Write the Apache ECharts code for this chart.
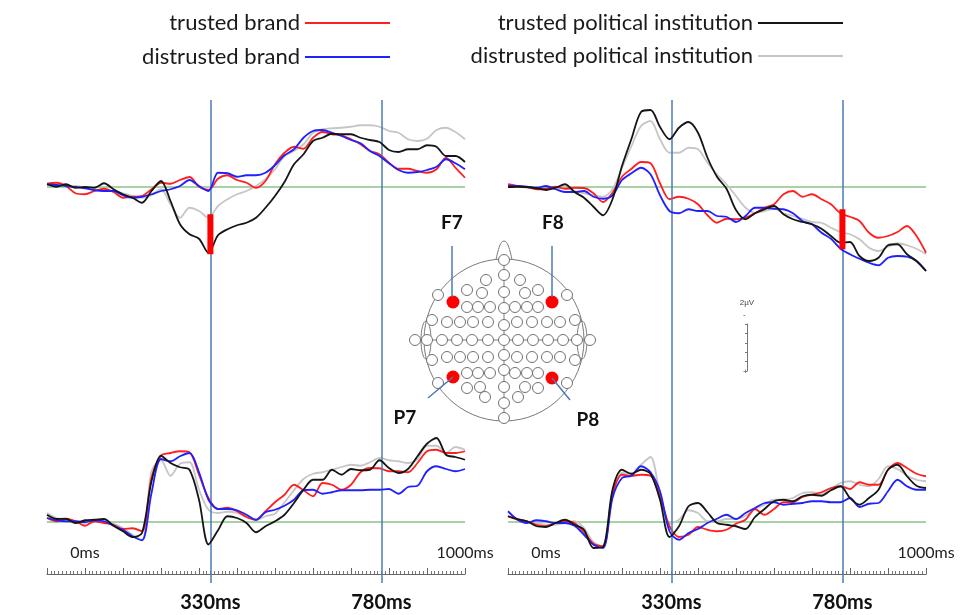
<!DOCTYPE html>
<html>
<head>
<meta charset="utf-8">
<title>ERP waveforms</title>
<style>
  html, body { margin: 0; padding: 0; background: #fff; }
  #main { width: 962px; height: 615px; }
</style>
<script src="https://cdn.jsdelivr.net/npm/echarts@6/dist/echarts.min.js"></script>
</head>
<body>
<div id="main"></div>
<script>
// time points of the averaged waveforms (ms)
var times = [-100, -75, -50, -25, 0, 25, 50, 75, 100, 125, 150, 175, 200, 225, 250, 275, 300, 325, 350, 375,
    400, 425, 450, 475, 500, 525, 550, 575, 600, 625, 650, 675, 700, 725, 750, 775, 800, 825, 850, 875,
    900, 925, 950, 975, 1000];

// F7 (uV, negative plotted up)
var f7BrandT = [-0.13, -0.17, -0.04, 0.25, 0.29, 0.16, 0.07, 0.2, 0.43, 0.39, 0.36, 0.09, -0.17, -0.13, -0.28, -0.4, -0.01, 0.12, -0.33, -0.47,
    -0.28, -0.17, 0.03, -0.24, -0.91, -1.37, -1.61, -1.53, -1.97, -2.2, -2.11, -2.07, -1.91, -1.71, -1.44, -1.31, -0.97, -0.73, -0.73, -0.64,
    -0.57, -0.71, -1.17, -0.77, -0.37];
var f7BrandD = [-0.11, -0.08, -0.04, 0, 0.05, 0.13, 0.16, 0.16, 0.33, 0.43, 0.39, 0.29, 0.16, 0.09, -0.04, -0.28, -0.04, 0.16, -0.57, -0.55,
    -0.41, -0.47, -0.47, -0.57, -0.87, -1.27, -1.51, -1.97, -2.24, -2.28, -2.17, -2.04, -1.88, -1.75, -1.44, -1.24, -0.95, -0.68, -0.57, -0.6,
    -0.68, -0.81, -1.11, -0.95, -0.71];
var f7PolT = [-0.11, -0.01, -0.11, 0.03, 0, 0.03, -0.15, 0.09, 0.29, 0.43, 0.63, 0.16, -0.24, 0.56, 1.49, 1.89, 2.07, 2.63, 1.93, 1.69,
    1.53, 1.43, 1.23, 0.83, 0.36, -0.2, -0.91, -1.31, -1.84, -1.97, -2.13, -2.11, -2.11, -1.97, -1.88, -1.8, -1.48, -1.4, -1.51, -1.51,
    -1.67, -1.61, -1.24, -1.24, -1.0];
var f7PolD = [-0.11, -0.07, -0.04, -0.04, 0.03, 0.09, 0.16, 0.16, 0.25, 0.36, 0.43, 0.33, 0.09, 0.69, 1.23, 0.83, 0.96, 1.23, 0.76, 0.49,
    0.29, 0.16, -0.04, -0.31, -0.71, -1.24, -1.44, -1.71, -2.17, -2.31, -2.35, -2.37, -2.41, -2.47, -2.47, -2.41, -2.24, -2.17, -1.91, -1.84,
    -1.93, -2.28, -2.37, -2.2, -1.91];

// F8
var f8BrandT = [-0.11, -0.04, 0, 0.09, 0.07, -0.01, 0.07, 0.03, 0.04, 0.25, 0.6, 0.23, -0.41, -0.73, -1.0, -0.95, -0.15, 0.49, 0.39, 0.47,
    0.69, 1.13, 1.43, 1.27, 1.29, 1.23, 1.05, 0.83, 0.69, 0.29, 0.16, 0.39, 0.29, 0.49, 0.69, 1.05, 1.19, 1.36, 1.83, 2.03,
    1.96, 1.8, 1.56, 1.96, 2.63];
var f8BrandD = [-0.04, -0.04, -0.01, 0.03, -0.04, 0.09, 0.2, 0.2, 0.16, 0.39, 0.47, 0.33, -0.28, -0.55, -0.77, -0.51, 0.33, 0.96, 1.05, 0.89,
    0.96, 0.96, 1.16, 1.19, 1.4, 1.16, 0.83, 0.83, 0.87, 0.89, 1.05, 1.36, 1.49, 1.83, 2.07, 2.47, 2.69, 2.87, 3.03, 3.13,
    2.83, 2.76, 2.79, 2.96, 3.36];
var f8PolT = [0, -0.01, 0, 0.05, 0.12, 0.03, -0.11, 0.2, 0.43, 0.79, 1.13, 0.49, -0.84, -1.93, -3.0, -3.08, -2.4, -1.91, -2.37, -2.6,
    -2.17, -1.17, -0.41, 0.07, 0.92, 1.29, 1.05, 0.89, 0.76, 1.09, 1.29, 1.4, 1.49, 1.67, 1.96, 2.23, 2.2, 2.76, 2.96, 2.83,
    2.33, 2.29, 2.69, 2.96, 3.36];
var f8PolD = [-0.04, -0.01, 0.03, 0.07, 0.09, 0.07, 0.03, 0.16, 0.25, 0.33, 0.39, 0.09, -0.77, -1.64, -2.44, -2.64, -1.91, -1.37, -1.37, -1.57,
    -1.51, -0.97, -0.51, -0.11, 0.36, 0.83, 1.03, 0.96, 0.87, 1.05, 1.16, 1.27, 1.4, 1.43, 1.63, 1.8, 1.89, 2.09, 2.43, 2.56,
    2.39, 2.25, 2.33, 2.47, 2.69];

// P7
var p7BrandT = [-0.16, -0.03, -0.12, -0.03, 0.15, -0.03, 0.04, 0.11, 0.28, 0.25, 0.37, -1.76, -2.65, -2.76, -2.83, -2.79, -1.89, -0.96, -0.52, -0.57,
    -0.43, -0.2, -0.09, -0.43, -0.79, -1.09, -1.49, -1.27, -1.03, -1.56, -1.49, -1.29, -1.49, -1.99, -2.16, -2.15, -2.03, -2.03, -1.99, -2.36,
    -2.83, -2.89, -2.76, -2.76, -2.83];
var p7BrandD = [-0.16, -0.07, -0.03, -0.03, 0.01, -0.07, -0.03, 0.15, 0.31, 0.57, 0.73, -1.16, -2.52, -2.43, -2.63, -2.76, -1.99, -0.89, -0.52, -0.52,
    -0.47, -0.29, -0.09, -0.39, -0.49, -0.65, -0.89, -1.27, -1.29, -1.13, -1.19, -1.27, -1.27, -1.27, -1.29, -1.29, -1.32, -1.13, -1.4, -1.45,
    -2.03, -2.23, -2.12, -2.03, -2.12];
var p7PolT = [-0.29, -0.12, -0.13, 0.04, -0.07, -0.09, -0.12, 0.15, 0.37, 0.6, 0.44, -1.63, -2.65, -2.36, -2.19, -2.09, -0.89, 0.9, 0.33, -0.23,
    -0.16, 0.04, 0.41, 0.17, -0.03, -0.29, -0.76, -1.29, -1.69, -1.69, -2.09, -1.89, -2.12, -2.07, -2.09, -2.47, -2.16, -1.96, -2.12, -2.63,
    -3.13, -3.36, -2.69, -2.6, -2.49];
var p7PolD = [-0.36, -0.16, -0.12, -0.03, 0.01, -0.03, 0.01, 0.07, 0.24, 0.51, 0.73, -2.03, -2.47, -1.85, -2.33, -2.39, -1.29, -0.49, -0.36, -0.41,
    -0.36, -0.2, -0.07, -0.23, -0.33, -0.79, -1.27, -1.72, -1.93, -1.99, -2.09, -2.2, -2.29, -2.25, -2.39, -2.56, -2.47, -2.43, -2.36, -2.52,
    -3.05, -3.05, -2.76, -3.0, -2.89];

// P8
var p8BrandT = [-0.23, -0.09, -0.03, 0.11, 0.17, 0.04, -0.03, 0.04, 0.41, 0.87, 0.97, -1.09, -1.89, -1.85, -1.89, -1.85, -1.03, 0.17, 0.6, 0.51,
    0.2, 0.31, 0.37, 0.31, 0.07, -0.09, -0.52, -0.29, -0.52, -0.79, -0.79, -1.0, -1.09, -1.19, -1.36, -1.43, -1.32, -1.59, -1.49, -1.49,
    -2.09, -2.36, -2.16, -1.93, -1.83];
var p8BrandD = [-0.43, -0.09, 0.04, -0.07, -0.03, 0.04, 0.04, 0.15, 0.51, 0.91, 1.04, -0.96, -1.76, -1.85, -2.23, -1.99, -1.23, 0.37, 0.71, 0.44,
    0.28, 0.04, -0.13, -0.29, -0.12, -0.36, -0.56, -0.76, -0.79, -0.69, -0.73, -0.76, -0.83, -0.83, -0.79, -0.79, -0.96, -0.6, -0.73, -0.76,
    -1.23, -1.69, -1.43, -1.29, -1.29];
var p8PolT = [-0.23, -0.12, -0.03, 0.17, 0.2, 0.04, -0.09, 0.11, 0.31, 1.04, 1.0, -1.29, -2.09, -1.93, -2.09, -1.93, -0.89, 0.6, 0.17, -0.63,
    -0.76, -0.39, 0.04, 0.11, 0.17, 0.28, -0.2, -0.52, -0.83, -0.89, -0.83, -1.03, -1.09, -1.05, -1.27, -1.43, -0.96, -0.69, -0.96, -1.29,
    -2.09, -2.29, -1.83, -1.45, -1.36];
var p8PolD = [-0.23, -0.12, -0.03, 0.04, 0.11, 0.11, 0.04, -0.03, 0.24, 0.81, 0.97, -1.16, -1.96, -1.93, -2.29, -2.6, -1.09, 0.07, -0.09, -0.47,
    -0.36, -0.03, -0.03, -0.12, -0.12, -0.25, -0.52, -0.69, -0.89, -0.89, -0.96, -1.16, -1.19, -1.13, -1.32, -1.56, -1.63, -1.49, -1.43, -1.72,
    -2.23, -2.12, -1.85, -1.69, -1.63];

// significant differences [ms, from uV, to uV]
var diffF7 = [330, 1.09, 2.69];
var diffF8 = [780, 0.89, 2.49];

var markTimes = [330, 780];
var rulerLabels = [0, 1000];

var names = ['distrusted political institution', 'trusted brand', 'distrusted brand', 'trusted political institution'];
var colors = ['#c6c6c6', '#ff1f1f', '#2020ff', '#151515'];

// electrode sketch, px from head centre (y up)
var electrodes = [
    [0, 80], [0, 65], [-18, 60], [16, 60],
    [-37, 50], [-22, 47], [0, 48], [21, 47], [34, 50], [-66, 45], [63, 45],
    [-37, 33], [-26, 33], [-14, 33], [0, 32], [11, 33], [23, 33], [34, 33],
    [-72, 20], [-57, 18], [-44, 18], [-31, 18], [-16, 18], [0, 15], [13, 18], [28, 18], [43, 18], [56, 18], [71, 20],
    [-89, 0], [-77, 0], [-62, 0], [-47, 0], [-32, 0], [-16, 0], [0, 0], [14, 0], [29, 0], [44, 0], [59, 0], [73, 0], [86, 0],
    [-72, -20], [-57, -17], [-44, -17], [-31, -17], [-16, -17], [0, -15], [13, -17], [28, -17], [43, -17], [56, -17], [71, -20],
    [-37, -33], [-26, -33], [-14, -33], [0, -30], [11, -33], [23, -33], [34, -33],
    [-66, -43], [63, -43], [-37, -48], [-24, -47], [0, -47], [21, -47], [34, -48],
    [-19, -57], [14, -57], [0, -63], [0, -78]
];
var markedElectrodes = [[-51, 38], [48, 38], [-51, -37], [48, -38]];
var headShape = {
    radius: [80, 81],
    nose: [[-8, 80], [-4, 95], [0, 99], [4, 95], [8, 80]],
    ears: [[-78, 0], [78, 0]],
    earSize: [5, 19],
    cross: [[[0, 80], [0, -78]], [[-89, 0], [86, 0]]]
};
var pointers = [
    { text: 'F7', from: [-52, 94], to: [-52, 43], at: [-52, 117] },
    { text: 'F8', from: [48, 94], to: [48, 43], at: [49, 117] },
    { text: 'P7', from: [-51, -37], to: [-76, -58], at: [-99, -78] },
    { text: 'P8', from: [48, -38], to: [66, -60], at: [84, -80] }
];

var FONT = 'Lato';
var LINE_BLUE = '#4a7bb5';
var ZERO_GREEN = '#4fa64f';

var myChart = echarts.init(document.getElementById('main'));

function pairs(vals) {
    return times.map(function (t, i) { return [t, vals[i]]; });
}

var panels = [
    { values: [f7PolD, f7BrandT, f7BrandD, f7PolT], diff: diffF7 },
    { values: [f8PolD, f8BrandT, f8BrandD, f8PolT], diff: diffF8 },
    { values: [p7PolD, p7BrandT, p7BrandD, p7PolT] },
    { values: [p8PolD, p8BrandT, p8BrandD, p8PolT] }
];

var grids = [
    { left: 47, top: 87, width: 418, height: 200 },
    { left: 508, top: 87, width: 418, height: 200 },
    { left: 47, top: 422, width: 418, height: 175 },
    { left: 508, top: 422, width: 418, height: 175 },
    // rulers
    { left: 47, top: 560, width: 418, height: 14 },
    { left: 508, top: 560, width: 418, height: 14 },
    // long vertical lines
    { left: 47, top: 100, width: 418, height: 483 },
    { left: 508, top: 100, width: 418, height: 483 },
    // head
    { left: 404, top: 240, width: 200, height: 200 },
    // scale bar
    { left: 747, top: 324, width: 1, height: 47 }
];

var xAxes = [], yAxes = [];
for (var g = 0; g < 8; g++) {
    var isRuler = (g === 4 || g === 5);
    xAxes.push({
        gridIndex: g, type: 'value', min: -100, max: 1000, interval: 100,
        show: isRuler,
        axisLine: { show: true, onZero: false, lineStyle: { color: '#666', width: 1 } },
        axisTick: { show: true, inside: true, length: 6, lineStyle: { color: '#666' } },
        minorTick: { show: true, splitNumber: 10, length: 3, lineStyle: { color: '#777' } },
        splitLine: { show: false },
        axisLabel: {
            inside: true, margin: 13, fontSize: 16, color: '#222', fontFamily: FONT,
            formatter: function (v) { return rulerLabels.indexOf(v) >= 0 ? v + 'ms' : ''; }
        }
    });
    if (g < 4) {
        yAxes.push({ gridIndex: g, type: 'value', min: -4, max: g < 2 ? 4 : 3, inverse: true, show: false });
    } else {
        yAxes.push({ gridIndex: g, type: 'value', min: 0, max: 1, show: false });
    }
}
xAxes.push({ gridIndex: 8, type: 'value', min: -100, max: 100, show: false });
yAxes.push({ gridIndex: 8, type: 'value', min: -100, max: 100, show: false });
xAxes.push({ gridIndex: 9, type: 'value', min: 0, max: 1, show: false });
yAxes.push({
    gridIndex: 9, type: 'value', min: 0, max: 2, interval: 0.4, position: 'left',
    axisLine: { show: true, lineStyle: { color: '#777', width: 1 } },
    axisTick: { show: true, length: 2, lineStyle: { color: '#777' } },
    axisLabel: { show: false }, splitLine: { show: false },
    name: '2µV', nameLocation: 'end', nameGap: 17,
    nameTextStyle: { fontSize: 8, color: '#444', fontFamily: 'Liberation Sans' }
});

// red bar spanning the significant difference, drawn through the panel scales
function renderDiff(params, api) {
    var a = api.coord([api.value(0), api.value(1)]);
    var b = api.coord([api.value(0), api.value(2)]);
    return {
        type: 'rect',
        shape: { x: a[0] - 3, y: Math.min(a[1], b[1]), width: 6, height: Math.abs(b[1] - a[1]) },
        style: { fill: '#ff0000' }
    };
}

var series = [];
panels.forEach(function (p, k) {
    // 0 uV baseline across the epoch
    series.push({
        type: 'line', xAxisIndex: k, yAxisIndex: k, silent: true, z: 2,
        data: [[times[0], 0], [times[times.length - 1], 0]],
        showSymbol: false, symbol: 'none', color: ZERO_GREEN,
        lineStyle: { color: ZERO_GREEN, width: 1 }
    });
    p.values.forEach(function (vals, j) {
        series.push({
            type: 'line', name: names[j], xAxisIndex: k, yAxisIndex: k,
            data: pairs(vals), showSymbol: false, symbol: 'none', smooth: 0.3,
            color: colors[j], lineStyle: { width: 1.8, color: colors[j] },
            silent: true, z: 3 + j
        });
    });
    if (p.diff) {
        series.push({
            type: 'custom', xAxisIndex: k, yAxisIndex: k, data: [p.diff], renderItem: renderDiff,
            encode: { x: 0, y: [1, 2] }, silent: true, z: 9
        });
    }
});

[6, 7].forEach(function (g) {
    series.push({
        type: 'line', xAxisIndex: g, yAxisIndex: g, data: [], silent: true, z: 2,
        markLine: {
            symbol: 'none', silent: true,
            lineStyle: { color: LINE_BLUE, width: 1.5, type: 'solid' },
            label: {
                position: 'start', distance: 10, fontSize: 20, fontWeight: 'bold', color: '#111', fontFamily: FONT,
                formatter: function (p) { return p.value + 'ms'; }
            },
            data: markTimes.map(function (t) { return { xAxis: t }; })
        }
    });
});

function renderHead(params, api) {
    var c = api.coord([0, 0]);
    var rx = api.size([headShape.radius[0], 0])[0];
    var ry = api.size([0, headShape.radius[1]])[1];
    var children = [];
    var stroke = { fill: 'none', stroke: '#7a7a7a', lineWidth: 1 };
    headShape.ears.forEach(function (e) {
        var ec = api.coord(e);
        children.push({
            type: 'ellipse',
            shape: { cx: ec[0], cy: ec[1], rx: api.size([headShape.earSize[0], 0])[0], ry: api.size([0, headShape.earSize[1]])[1] },
            style: stroke
        });
    });
    children.push({
        type: 'polyline', shape: { points: headShape.nose.map(function (q) { return api.coord(q); }), smooth: 0.4 },
        style: { fill: '#fff', stroke: '#7a7a7a', lineWidth: 1 }
    });
    children.push({ type: 'ellipse', shape: { cx: c[0], cy: c[1], rx: rx, ry: ry }, style: stroke });
    headShape.cross.forEach(function (seg) {
        var a = api.coord(seg[0]), b = api.coord(seg[1]);
        children.push({ type: 'line', shape: { x1: a[0], y1: a[1], x2: b[0], y2: b[1] }, style: { stroke: '#7a7a7a', lineWidth: 1 } });
    });
    return { type: 'group', children: children };
}

function renderPointers(params, api) {
    var children = [];
    pointers.forEach(function (p) {
        var a = api.coord(p.from), b = api.coord(p.to), t = api.coord(p.at);
        children.push({ type: 'line', shape: { x1: a[0], y1: a[1], x2: b[0], y2: b[1] }, style: { stroke: LINE_BLUE, lineWidth: 1.5 } });
        children.push({
            type: 'text', x: t[0], y: t[1],
            style: {
                text: p.text, fill: '#111', font: 'bold 19px ' + FONT,
                align: 'center', verticalAlign: 'middle', textAlign: 'center', textVerticalAlign: 'middle'
            }
        });
    });
    return { type: 'group', children: children };
}

series.push({
    type: 'custom', xAxisIndex: 8, yAxisIndex: 8, data: [[0, 0]], renderItem: renderHead, silent: true, z: 5, clip: false
});
series.push({
    type: 'scatter', xAxisIndex: 8, yAxisIndex: 8, data: electrodes, symbolSize: 11, silent: true, z: 6,
    itemStyle: { color: '#fff', borderColor: '#727272', borderWidth: 1, opacity: 1 }
});
series.push({
    type: 'scatter', xAxisIndex: 8, yAxisIndex: 8, data: markedElectrodes, symbolSize: 13, silent: true, z: 7,
    itemStyle: { color: '#ff0000', opacity: 1 }
});
series.push({
    type: 'custom', xAxisIndex: 8, yAxisIndex: 8, data: [[0, 0]], renderItem: renderPointers, silent: true, z: 8, clip: false
});

var legendBase = {
    align: 'right', padding: 0, itemWidth: 85, itemHeight: 2, icon: 'rect', selectedMode: false,
    textStyle: { fontSize: 22, color: '#1a1a1a', fontFamily: FONT }
};
function legendAt(name, right, top) {
    return Object.assign({}, legendBase, { data: [name], right: right, top: top });
}

var option = {
    animation: false,
    backgroundColor: '#fff',
    legend: [
        legendAt('trusted brand', 572, 12),
        legendAt('distrusted brand', 572, 46),
        legendAt('trusted political institution', 119, 12),
        legendAt('distrusted political institution', 119, 45)
    ],
    grid: grids,
    xAxis: xAxes,
    yAxis: yAxes,
    graphic: [
        { type: 'text', left: 743, top: 311, style: { text: '-', fontSize: 8, fill: '#444' } },
        { type: 'text', left: 743, top: 368, style: { text: '+', fontSize: 8, fill: '#444' } }
    ],
    series: series
};

myChart.setOption(option);
window.addEventListener('resize', function () { myChart.resize(); });
</script>
</body>
</html>
